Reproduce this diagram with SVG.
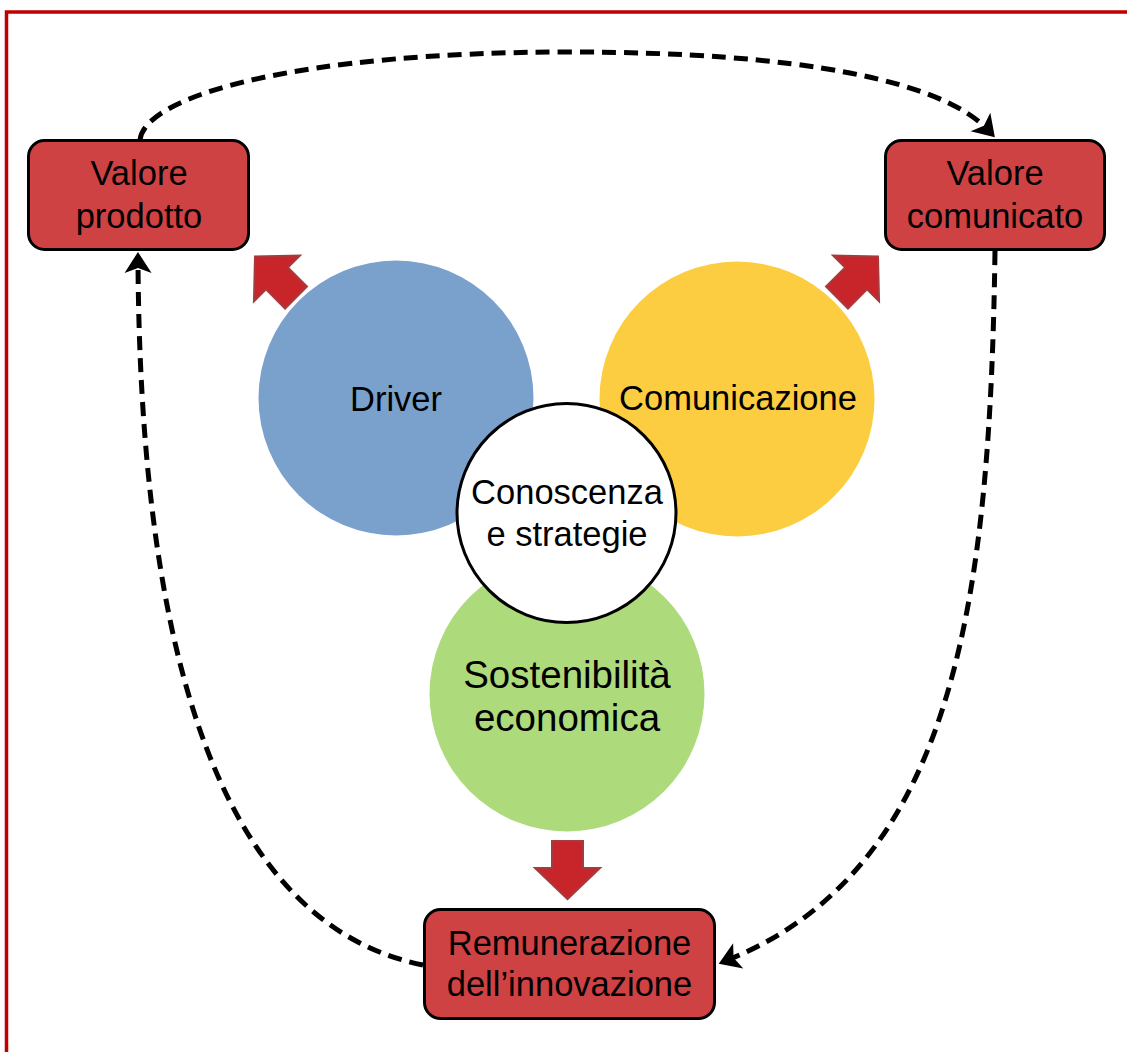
<svg xmlns="http://www.w3.org/2000/svg" width="1127" height="1052" viewBox="0 0 1127 1052">
  <style>
    .label { font-family: "Liberation Sans", Arial, sans-serif; font-size: 34.5px; fill: #000; text-anchor: middle; }
    .big { font-size: 38.5px; }
    .box { fill: #CF4244; stroke: #000; stroke-width: 3; }
    .flow { fill: none; stroke: #000; stroke-width: 5; stroke-dasharray: 14 8; }
    .block { fill: #C8252A; stroke: #A63A3E; stroke-width: 2; stroke-linejoin: miter; }
  </style>
  <defs>
    <!-- black arrowhead for the dashed loop; tip sits 10px past the path end -->
    <marker id="head" markerUnits="userSpaceOnUse" markerWidth="2" markerHeight="2" refX="-10" refY="0" orient="auto" overflow="visible">
      <path d="M0,0 L-21,-13.5 L-16,0 L-21,13.5 Z" fill="#000"/>
    </marker>
    <!-- thick block arrow pointing down, tip at origin -->
    <polygon id="blockArrow" points="-15.5,-58 15.5,-58 15.5,-31 32.5,-31 0,0 -32.5,-31 -15.5,-31"/>
  </defs>

  <!-- page frame -->
  <path d="M6.5,1052 V12 H1127" fill="none" stroke="#C00000" stroke-width="3.5"/>

  <!-- circles -->
  <g id="driver">
    <circle cx="396" cy="398" r="137.5" fill="#7AA0CC"/>
    <text class="label" x="396" y="411">Driver</text>
  </g>
  <g id="comunicazione">
    <circle cx="737" cy="399" r="137.5" fill="#FDCD41"/>
    <text class="label" x="738" y="410">Comunicazione</text>
  </g>
  <g id="sostenibilita">
    <circle cx="567" cy="694" r="137.5" fill="#ADDA7B"/>
    <text class="label big" x="567" y="688">Sostenibilità</text>
    <text class="label big" x="567" y="731">economica</text>
  </g>
  <g id="conoscenza">
    <circle cx="566.5" cy="513" r="109.5" fill="#FFFFFF" stroke="#000" stroke-width="3"/>
    <text class="label" x="567" y="504">Conoscenza</text>
    <text class="label" x="567" y="546">e strategie</text>
  </g>

  <!-- outcome boxes -->
  <g id="valore-prodotto">
    <rect class="box" x="28.5" y="140.5" width="220" height="109" rx="16"/>
    <text class="label" x="139" y="185">Valore</text>
    <text class="label" x="139" y="228">prodotto</text>
  </g>
  <g id="valore-comunicato">
    <rect class="box" x="885.5" y="140.5" width="219" height="109" rx="16"/>
    <text class="label" x="995" y="185">Valore</text>
    <text class="label" x="995" y="228">comunicato</text>
  </g>
  <g id="remunerazione">
    <rect class="box" x="424.5" y="909.5" width="290" height="109" rx="16"/>
    <text class="label" x="569.5" y="955">Remunerazione</text>
    <text class="label" x="569.5" y="996">dell’innovazione</text>
  </g>

  <!-- block arrows from the circles to the boxes -->
  <g id="block-arrows">
    <use href="#blockArrow" class="block" transform="translate(255,256.5) rotate(135)"/>
    <use href="#blockArrow" class="block" transform="translate(878,256.5) rotate(-135)"/>
    <use href="#blockArrow" class="block" transform="translate(567.5,899)"/>
  </g>

  <!-- dashed value loop -->
  <g id="connectors">
    <path class="flow" marker-end="url(#head)" d="M140,140 C145,95 300,52 570,52 C800,52 942,81 988,130"/>
    <path class="flow" marker-end="url(#head)" d="M995,251 C990,600 955,868 728,960"/>
    <path class="flow" marker-end="url(#head)" d="M423,965 C200,920 140,600 138,262"/>
  </g>
</svg>
